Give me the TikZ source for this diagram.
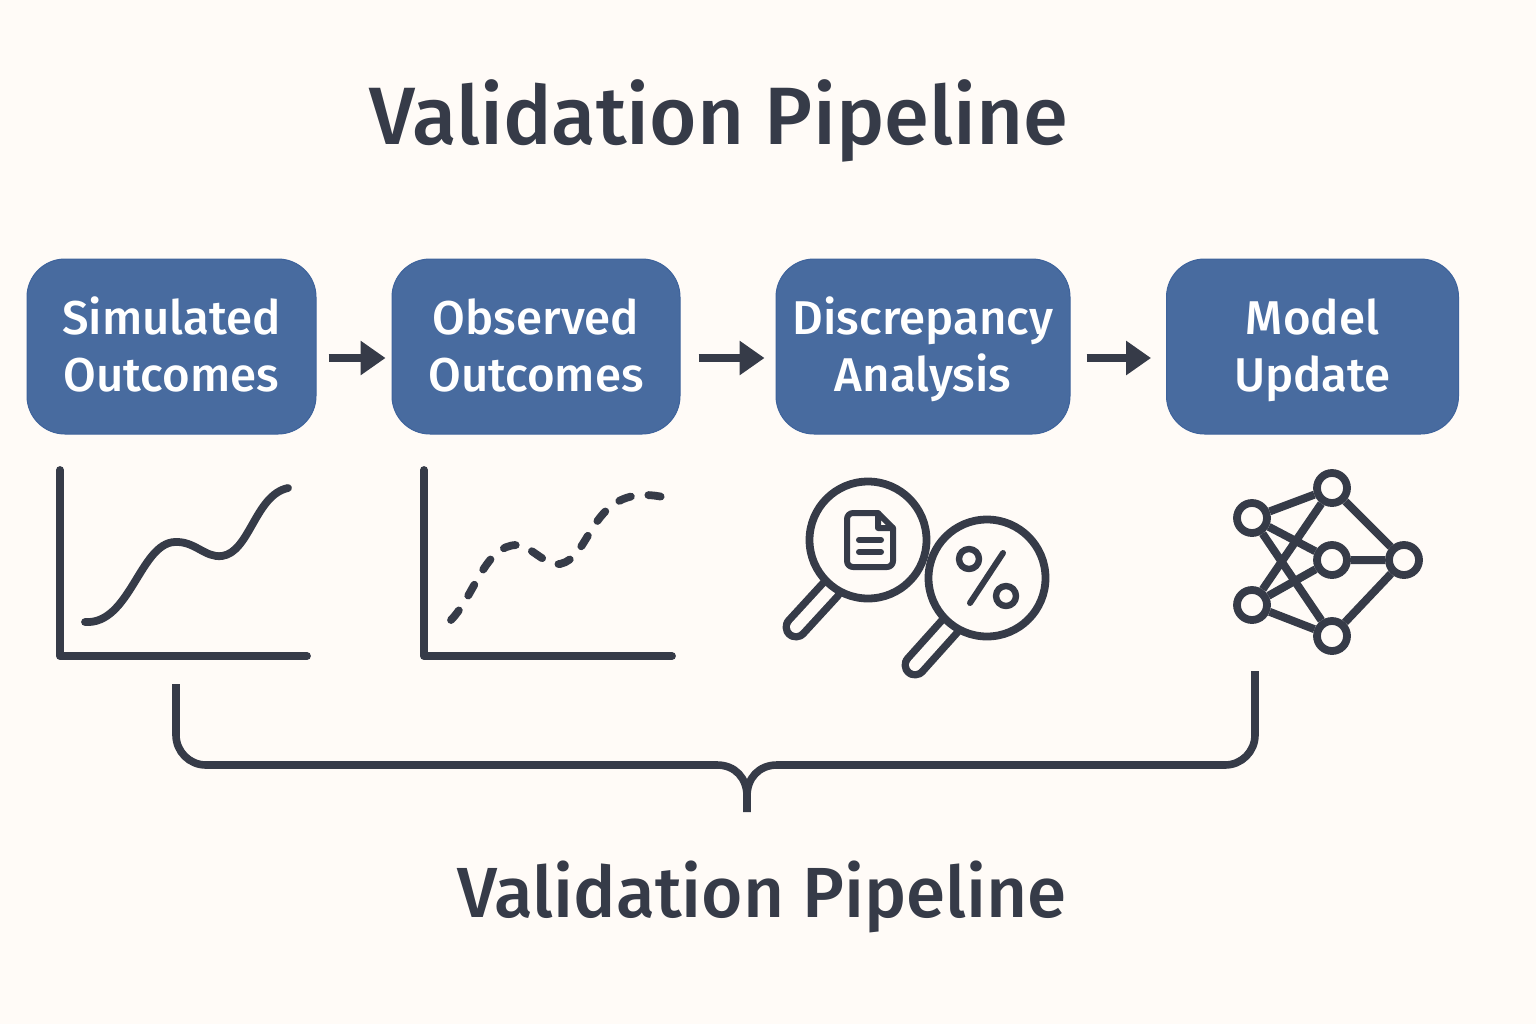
\documentclass[tikz,border=0pt]{standalone}
\usepackage{fontspec}
\setmainfont{Fira Sans}[UprightFont=* Medium]
\usetikzlibrary{arrows.meta}
\definecolor{pagebg}{HTML}{FFFBF7}
\definecolor{inkdark}{HTML}{363B48}
\definecolor{stageblue}{HTML}{486B9F}
\definecolor{stageedge}{HTML}{3E639C}
\newcommand{\toprise}{\rule{0pt}{25pt}}
\tikzset{
  stagebox/.style={draw=stageedge,line width=.5pt,fill=stageblue,rounded corners=19pt,text=white,
    align=center,inner sep=0pt,minimum height=87.5pt,font=\fontsize{23.7}{28.5}\selectfont},
  flowarrow/.style={draw=inkdark,line width=4pt,-{Triangle[length=12.5pt,width=16.5pt]}},
  inkline/.style={draw=inkdark,line width=3.9pt,line cap=round,line join=round},
  netnode/.style={circle,draw=inkdark,fill=pagebg,line width=3.9pt,minimum size=15pt,inner sep=0pt},
  netedge/.style={draw=inkdark,line width=4pt},
  pipetitle/.style={text=inkdark,inner sep=0pt}
}
\begin{document}
\begin{tikzpicture}[x=.5pt,y=-.5pt]
\path[use as bounding box,fill=pagebg] (0,0) rectangle (1536,1024);
\node[pipetitle,font=\fontsize{40.7}{46}\selectfont] (toptitle) at (719,121) {Validation Pipeline};
\node[pipetitle,font=\fontsize{35.5}{40}\selectfont] (bottomtitle) at (762,897) {Validation Pipeline};
\node[stagebox,minimum width=144.5pt] (simulated) at (171.5,346.5) {\toprise Simulated\\Outcomes\strut};
\node[stagebox,minimum width=144pt] (observed) at (536,346.5) {\toprise Observed\\Outcomes\strut};
\node[stagebox,minimum width=147pt] (discrepancy) at (923,346.5) {\toprise Discrepancy\\Analysis\strut};
\node[stagebox,minimum width=146pt] (update) at (1312.5,346.5) {\toprise Model\\Update\strut};
\draw[flowarrow,shorten <=6pt,shorten >=3pt] ([yshift=-5.75pt]simulated.east) -- ([yshift=-5.75pt]observed.west);
\draw[flowarrow,shorten <=9pt,shorten >=5.5pt] ([yshift=-5.75pt]observed.east) -- ([yshift=-5.75pt]discrepancy.west);
\draw[flowarrow,shorten <=8pt,shorten >=7.5pt] ([yshift=-5.75pt]discrepancy.east) -- ([yshift=-5.75pt]update.west);
\draw[inkline] (60,470)--(60,656)--(307,656);
\draw[inkline] (85,622) .. controls (130,625) and (140,543) .. (175,542) .. controls (195,541) and (205,558) .. (222,556) .. controls (250,552) and (255,495) .. (288,488);
\draw[inkline] (424,470)--(424,656)--(672,656);
\draw[inkline,dash pattern=on 6.2pt off 8.8pt] (451,620) .. controls (475,595) and (485,545) .. (517,545) .. controls (530,545) and (545,566) .. (560,564) .. controls (590,558) and (590,495) .. (645,495) .. controls (652,495) and (658,496) .. (663,497);
\draw[inkdark,line width=13.5pt,line cap=round] (830,590)--(796,627);
\draw[pagebg,line width=6pt,line cap=round] (830,590)--(796,627);
\draw[inkline,fill=pagebg] (868,540) circle[radius=58.5];
\draw[inkdark,line width=13.5pt,line cap=round] (950,626)--(915,665);
\draw[pagebg,line width=6pt,line cap=round] (950,626)--(915,665);
\draw[inkline,fill=pagebg] (987,578) circle[radius=58.5];
\draw[inkline,line width=3pt,rounded corners=3pt] (878,513)--(847,513)--(847,567)--(893,567)--(893,528);
\draw[inkline,line width=3pt,line join=round] (878,513)--(893,528)--(878,528)--cycle;
\draw[inkline,line width=3pt] (859,540)--(881,540) (859,552)--(881,552);
\draw[inkline,line width=3.2pt] (969,559) circle[radius=10] (1006,596) circle[radius=10];
\draw[inkline,line width=3pt] (1003,553)--(970,603);
\node[netnode] (neta) at (1252,518) {};
\node[netnode] (netb) at (1332,488) {};
\node[netnode] (netc) at (1332,560) {};
\node[netnode] (netd) at (1252,605) {};
\node[netnode] (nete) at (1332,636) {};
\node[netnode] (netf) at (1404,560) {};
\draw[netedge] (neta)--(netb) (neta)--(netc) (neta)--(nete) (netd)--(netb) (netd)--(netc) (netd)--(nete) (netb)--(netf) (netc)--(netf) (nete)--(netf);
\draw[inkdark,line width=3.8pt] (176,684)--(176,735) arc[start angle=180,end angle=90,radius=30]--(717,765) .. controls (735,765) and (747,778) .. (747,796)--(747,812);
\draw[inkdark,line width=3.8pt] (1255,671)--(1255,735) arc[start angle=0,end angle=90,radius=30]--(777,765) .. controls (759,765) and (747,778) .. (747,796);
\end{tikzpicture}
\end{document}
